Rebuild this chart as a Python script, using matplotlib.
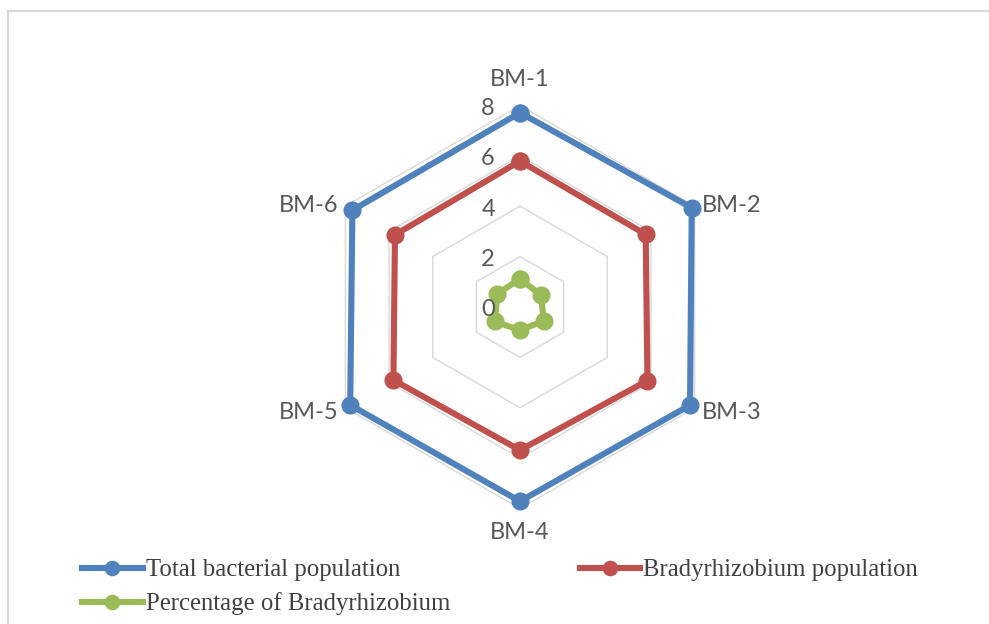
import numpy as np
import matplotlib
matplotlib.use("Agg")
import matplotlib.pyplot as plt
from matplotlib.lines import Line2D

categories = ["BM-1", "BM-2", "BM-3", "BM-4", "BM-5", "BM-6"]
total_pop = [7.71, 7.87, 7.79, 7.71, 7.78, 7.68]
brady_pop = [5.79, 5.76, 5.84, 5.68, 5.80, 5.73]
pct_brady = [1.12, 0.95, 1.10, 0.92, 1.15, 1.04]
rticks = [0, 2, 4, 6, 8]

series = [
    ("Total bacterial population", total_pop, "#4F81BD"),
    ("Bradyrhizobium population", brady_pop, "#C0504D"),
    ("Percentage of Bradyrhizobium", pct_brady, "#9BBB59"),
]

W, H = 989, 624
fig = plt.figure(figsize=(W / 100, H / 100), dpi=100)
fig.patch.set_facecolor("white")

# frame border (top and left visible)
fig.add_artist(Line2D([8 / W, 8 / W], [0, 1 - 11 / H], transform=fig.transFigure,
                      color="#D9D9D9", lw=1.6))
fig.add_artist(Line2D([8 / W, 1], [1 - 11 / H, 1 - 11 / H], transform=fig.transFigure,
                      color="#D9D9D9", lw=1.6))

cx, cy, R = 520, 307, 201.6
ax = fig.add_axes([(cx - R) / W, (H - cy - R) / H, 2 * R / W, 2 * R / H], projection="polar")
ax.set_theta_zero_location("N")
ax.set_theta_direction(-1)
ax.set_ylim(0, 8)
ax.grid(False)
ax.set_xticks([])
ax.set_yticks([])
ax.spines["polar"].set_visible(False)
ax.patch.set_alpha(0)

n = len(categories)
theta = np.arange(n) * 2 * np.pi / n
theta_c = np.append(theta, theta[0])

for r in rticks[1:]:
    ax.plot(theta_c, [r] * (n + 1), color="#D9D9D9", lw=1.0, zorder=1, clip_on=False)

handles = []
for name, vals, col in series:
    v = list(vals) + [vals[0]]
    (ln,) = ax.plot(theta_c, v, color=col, lw=4.4, marker="o", ms=12, mec=col, mfc=col,
                    zorder=3, clip_on=False, label=name)
    handles.append(ln)

label_font = dict(family=["Lato", "DejaVu Sans"], size=17, color="#595959")
offsets = {
    0: ((0, 26), "center"),
    1: ((7, 1), "left"),
    2: ((7, -5), "left"),
    3: ((0, -24), "center"),
    4: ((-7, -5), "right"),
    5: ((-7, 1), "right"),
}
for i, cat in enumerate(categories):
    off, ha = offsets[i]
    ax.annotate(cat, xy=(theta[i], rticks[-1]), xytext=off, textcoords="offset pixels",
                ha=ha, va="center", annotation_clip=False, **label_font)

for r in rticks:
    ax.annotate(str(r), xy=(0, r), xytext=(-25, -3), textcoords="offset pixels",
                ha="right", va="center", annotation_clip=False, **label_font)

order = [0, 2, 1]
leg = fig.legend([handles[i] for i in order], [series[i][0] for i in order],
                 ncol=2, loc="upper left", bbox_to_anchor=(82 / W, 1 - 559 / H),
                 frameon=False, borderpad=0, borderaxespad=0,
                 prop=dict(family=["Liberation Serif"], size=17.8),
                 handlelength=2.45, handletextpad=0.12, columnspacing=5.25,
                 labelspacing=0.45, markerscale=0.85)
for t in leg.get_texts():
    t.set_color("#404040")

fig.savefig("out.png", dpi=100, facecolor="white")
